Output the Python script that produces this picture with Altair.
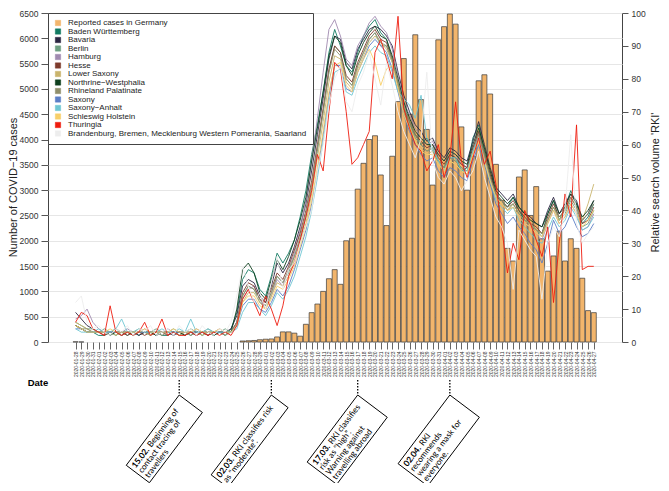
import altair as alt
import pandas as pd

# ---------------- data ----------------
dates = pd.date_range("2020-01-28", "2020-04-27", freq="D").strftime("%Y-%m-%d").tolist()

cases = [4, 1, 0, 0, 0, 0, 0, 0, 0, 0,
         0, 0, 0, 0, 0, 0, 0, 0, 0, 0,
         0, 0, 0, 0, 0, 0, 0, 0, 0, 20,
         25, 30, 45, 55, 60, 100, 200, 200, 175, 115,
         350, 580, 750, 1000, 1250, 1430, 1140, 2000, 2050, 3020,
         3530, 4000, 4075, 3300, 2300, 3670, 4750, 5600, 4500, 6070,
         4790, 4200, 3100, 5970, 6230, 6480, 6280, 4250, 3000, 3670,
         5160, 5280, 4900, 3510, 2800, 1850, 1600, 3260, 3400, 2500,
         3070, 2040, 1400, 1700, 2190, 1600, 2040, 1850, 1260, 620,
         580]

series_names = ["Reported cases in Germany", "Baden Württemberg", "Bavaria", "Berlin",
                "Hamburg", "Hesse", "Lower Saxony", "Northrine\u2212Westphalia",
                "Rhineland Palatinate", "Saxony", "Saxony\u2212Anhalt", "Schleswig Holstein",
                "Thuringia", "Brandenburg, Bremen, Mecklenburg Western Pomerania, Saarland"]
series_colors = ["#F2B56C", "#127A62", "#2B2542", "#6E9F82", "#A08AB0", "#7E3B2C",
                 "#C9B46C", "#0F3F1E", "#8F8E6B", "#5B7EC6", "#6EC6D2", "#F7CF6A",
                 "#EE1C0E", "#EDEDED"]

bw = [5,4,3,3,2,2,3,2,3,2, 3,2,3,2,3,2,2,3,2,3, 2,3,2,3,2,3,2,4,9,19,
      22,21,16,14,20,27,24,27,31,38, 46,57,66,76,88,95,90,84,82,88,
      93,96,98,94,92,86,78,70,66,63, 60,62,58,55,53,57,56,52,53,62,
      66,58,50,44,43,41,44,40,37,36, 34,33,39,43,37,41,46,42,36,38, 42]
by = [9,7,5,4,3,3,3,3,2,3, 3,2,3,3,2,3,3,2,3,3, 3,2,3,2,3,3,3,4,8,17,
      19,18,14,12,17,24,21,24,29,35, 42,52,63,74,86,93,92,85,83,89,
      92,95,96,95,93,90,82,75,70,66, 64,61,62,58,56,59,58,56,55,61,
      67,60,53,47,45,43,45,41,39,38, 36,35,40,44,39,42,45,43,37,39, 43]
be = [6,5,4,4,3,4,3,4,3,3, 3,4,3,3,4,3,3,4,3,3, 4,3,3,4,3,3,4,3,6,14,
      17,16,12,11,15,20,18,21,26,31, 38,47,58,70,82,90,88,80,78,84,
      88,92,94,90,90,85,79,72,67,62, 60,58,59,55,53,56,55,53,52,58,
      64,57,50,45,43,40,42,39,37,36, 34,32,37,41,37,39,43,40,35,36, 40]
hh = [7,8,10,6,4,3,3,3,3,4, 3,3,4,3,3,3,4,3,3,3, 3,4,3,3,3,4,3,3,6,13,
      16,17,13,10,14,19,17,22,27,34, 43,55,68,82,95,98,93,86,84,90,
      93,97,99,96,94,89,81,73,69,65, 62,60,61,57,55,58,57,54,53,59,
      63,56,50,44,42,40,41,38,36,35, 33,31,36,40,36,38,42,39,34,35, 39]
he = [5,4,3,3,3,2,3,3,3,2, 3,3,2,3,3,3,2,3,3,2, 3,3,3,2,3,3,3,3,6,15,
      18,17,13,12,16,21,19,23,28,33, 40,49,60,71,83,90,88,81,79,85,
      89,93,95,92,91,86,78,71,67,63, 61,59,60,56,54,57,56,54,53,59,
      64,57,51,45,43,41,43,40,38,36, 35,33,38,42,38,40,44,41,36,37, 41]
ni = [6,5,4,3,3,3,3,2,3,3, 3,3,3,2,3,3,3,3,2,3, 3,3,2,3,3,3,3,3,5,12,
      15,15,12,10,14,18,17,20,25,30, 36,45,56,67,79,87,86,79,77,83,
      87,91,93,91,89,85,78,70,66,61, 59,57,58,54,52,55,54,52,51,57,
      62,56,49,44,42,40,42,39,37,36, 34,33,37,41,37,40,44,41,37,42, 48]
nw = [5,4,3,3,3,3,2,3,3,3, 2,3,3,3,2,3,3,3,3,2, 3,3,3,3,2,3,3,3,10,22,
      24,21,15,13,19,25,22,26,31,37, 44,55,65,76,87,93,91,84,81,87,
      91,94,96,93,92,87,80,73,68,64, 62,60,60,57,55,58,57,55,54,60,
      65,59,52,46,44,42,44,41,39,37, 36,35,39,43,39,41,45,42,38,40, 43]
rp = [5,4,4,3,3,3,3,3,2,3, 3,3,3,3,3,2,3,3,3,3, 2,3,3,3,3,3,2,3,6,14,
      17,16,13,11,15,20,18,22,26,32, 39,48,59,70,82,89,87,80,78,84,
      88,92,94,91,90,86,79,71,67,63, 60,58,59,55,53,56,55,53,52,58,
      63,57,50,45,43,41,42,39,37,36, 34,33,37,41,38,40,44,41,37,39, 42]
sn = [4,4,3,3,3,3,3,3,3,3, 3,3,3,3,3,3,3,3,3,3, 3,3,3,3,3,3,3,3,5,11,
      13,13,10,9,12,16,14,17,22,28, 34,42,52,63,75,84,84,77,76,82,
      86,90,92,90,88,83,76,69,64,60, 57,55,56,52,50,53,52,50,49,55,
      60,54,48,42,39,36,38,35,33,30, 28,24,30,37,33,35,39,35,32,33, 36]
st = [4,3,3,3,4,3,3,4,7,3, 3,4,3,3,3,4,3,3,4,3, 7,3,3,4,3,3,3,3,4,9,
      12,12,10,8,11,15,13,16,20,26, 32,40,50,61,73,82,83,76,75,80,
      84,88,90,88,87,82,76,74,72,68, 75,62,59,55,52,56,56,52,52,58,
      62,55,49,43,41,39,41,37,35,33, 31,30,34,38,35,37,41,38,34,35, 38]
sh = [5,4,3,3,3,3,4,3,3,3, 3,3,4,3,3,3,3,4,3,3, 3,4,3,3,3,4,3,3,5,12,
      14,14,11,10,13,17,16,19,23,29, 35,43,53,64,76,84,85,78,76,82,
      86,89,85,78,83,84,77,69,65,61, 58,57,57,54,52,55,54,52,51,57,
      61,55,49,44,42,40,41,38,36,35, 33,32,36,40,36,38,42,39,35,37, 40]
th = [6,9,8,4,3,2,11,3,2,3, 2,3,6,2,3,7,2,3,2,2, 3,2,3,2,3,2,3,2,5,13,
      16,12,8,14,10,5,11,20,24,31, 38,46,57,52,70,85,83,70,54,56,
      60,64,88,92,86,80,99,71,65,60, 58,52,55,60,50,56,73,55,50,56,
      62,54,58,48,35,21,30,25,40,36, 31,26,35,12,30,45,38,66,22,23, 23]
ot = [12,14,6,4,5,3,2,4,3,5, 2,4,3,5,2,3,4,2,5,3, 4,2,5,3,2,4,3,6,14,23,
      17,12,15,10,18,26,16,22,24,30, 35,40,52,60,72,80,84,73,70,78,
      82,88,80,72,85,78,70,64,60,56, 62,82,55,50,48,52,50,46,49,52,
      58,50,44,38,35,30,16,34,31,28, 26,13,30,35,32,40,63,36,30,33, 35]
search_series = [bw, by, be, hh, he, ni, nw, rp, sn, st, sh, th, ot]

annot_dates = ["2020-02-15", "2020-03-02", "2020-03-17", "2020-04-02"]
annot_bold = ["15.02.", "02.03.", "17.03.", "02.04."]
annot_first = ["Beginning of", "RKI classifies risk", "RKI classifies", "RKI"]
annot_rest = [["contact tracing of", "travellers"],
              ["as \u201cmoderate\u201d."],
              ["risk as \u201chigh\u201d.", "Warning against", "travelling abroad"],
              ["recommends", "wearing a mask for", "everyone."]]
annot_len = [88, 100, 84, 86]
annot_hgt = [29, 21, 37, 37]

# ---------------- tables ----------------
df_cases = pd.DataFrame({"date": dates, "cases": cases, "series": series_names[0]})
df_cases = df_cases[df_cases["cases"] > 0]
rows = []
for name, vals in zip(series_names[1:], search_series):
    for d, v in zip(dates, vals):
        rows.append({"date": d, "value": v, "series": name})
df_lines = pd.DataFrame(rows)

DAY = 86400000
T0 = 1580169600000
x_scale = alt.Scale(type="utc", domain=[T0 - 3.92 * DAY, T0 + 94.03 * DAY], nice=False)
color_scale = alt.Scale(domain=series_names, range=series_colors)

x_axis = alt.Axis(values=[T0 + i * DAY for i in range(len(dates))],
                  labelExpr="utcFormat(datum.value, '%Y-%m-%d')",
                  labelAngle=270, labelFontSize=5, labelOverlap=False, tickSize=7,
                  labelPadding=2, title=None, grid=False, domain=False,
                  tickColor="#666", labelColor="#333", labelBound=False)


def X():
    return alt.X("date:T", scale=x_scale, axis=x_axis)


left_axis = alt.Axis(values=list(range(0, 6501, 500)), format="d", tickSize=7, labelPadding=3,
                     labelFontSize=8.5, grid=True, gridColor="#e6e6e6", domain=False,
                     title="Number of COVID\u221219 cases", titleFontSize=11,
                     titleX=-30, titleY=174, titleAngle=270, titleBaseline="bottom")
right_axis = alt.Axis(orient="right", values=list(range(0, 101, 10)), format="d", tickSize=6,
                      labelPadding=3, labelFontSize=8.5, grid=False, domain=False,
                      title="Relative search volume 'RKI'", titleFontSize=11,
                      titleX=38, titleY=169, titleAngle=270, titleBaseline="bottom")
legend = alt.Legend(title=None, orient="top-left", offset=0, padding=6,
                    strokeColor="#444", fillColor="white", symbolType="square",
                    symbolSize=28, symbolStrokeColor="#333", symbolStrokeWidth=0.6,
                    labelFontSize=8, labelFont="Liberation Sans", labelColor="#222",
                    rowPadding=0.5, labelLimit=400, labelOffset=6, cornerRadius=0)

bars = alt.Chart(df_cases).mark_bar(size=5, stroke="#3a3a3a", strokeWidth=0.7).encode(
    x=X(),
    y=alt.Y("cases:Q", scale=alt.Scale(domain=[0, 6500], nice=False), axis=left_axis),
    color=alt.Color("series:N", scale=color_scale, legend=legend),
)
lines = alt.Chart(df_lines).mark_line(strokeWidth=0.9).encode(
    x=X(),
    y=alt.Y("value:Q", scale=alt.Scale(domain=[0, 100], nice=False), axis=right_axis),
    color=alt.Color("series:N", scale=color_scale, legend=None),
)

ANG = 307
TOPY = 382
FS = 8.3
LH = 8.2
layers = [bars, lines]
df_ann = pd.DataFrame({"date": annot_dates})
layers.append(alt.Chart(df_ann).mark_rule(strokeDash=[1.5, 1.5], color="black", strokeWidth=1.3).encode(
    x=X(), y=alt.value(367), y2=alt.value(TOPY)))
S = 50.0
for d, b, f, rest, L, H in zip(annot_dates, annot_bold, annot_first, annot_rest, annot_len, annot_hgt):
    one = pd.DataFrame({"date": [d], "b": [b], "f": [f], "r": ["\n".join(rest)]})
    path = f"M0,0L{-L/S:.3f},0L{-L/S:.3f},{H/S:.3f}L0,{H/S:.3f}Z"
    layers.append(alt.Chart(one).mark_point(shape=path, size=(2 * S) ** 2, angle=ANG, filled=True,
                                            fill="white", stroke="black", strokeWidth=0.9, opacity=1).encode(
        x=X(), y=alt.value(TOPY)))
    layers.append(alt.Chart(one).mark_text(angle=ANG, align="left", baseline="top", dx=-L + 3, dy=2.5,
                                           font="Lato", fontSize=FS, fontWeight="bold", color="black").encode(
        x=X(), y=alt.value(TOPY), text="b:N"))
    layers.append(alt.Chart(one).mark_text(angle=ANG, align="left", baseline="top", dx=-L + 29, dy=2.5,
                                           font="Lato", fontSize=FS, color="black").encode(
        x=X(), y=alt.value(TOPY), text="f:N"))
    layers.append(alt.Chart(one).mark_text(angle=ANG, align="left", baseline="top", dx=-L + 3, dy=2.5 + LH,
                                           font="Lato", fontSize=FS, color="black", lineBreak="\n",
                                           lineHeight=LH).encode(
        x=X(), y=alt.value(TOPY), text="r:N"))

date_lbl = alt.Chart(pd.DataFrame({"t": ["Date"]})).mark_text(
    font="Liberation Sans", fontSize=9.5, fontWeight="bold", color="black").encode(
    text="t:N", x=alt.value(-10), y=alt.value(370))
layers.append(date_lbl)

chart = alt.layer(*layers).resolve_scale(y="independent").properties(
    width=574, height=329,
    padding={"left": 40, "top": 5, "right": 39, "bottom": 141},
    autosize=alt.AutoSizeParams(type="none"),
    background="white",
).configure_view(stroke="#444", strokeWidth=1).configure_axis(
    labelFont="Liberation Sans", titleFont="Liberation Sans", labelColor="#333",
    titleColor="#222", tickColor="#555", titleFontWeight="normal")

chart.save("out.html", embed_options={"renderer": "svg", "actions": False})
